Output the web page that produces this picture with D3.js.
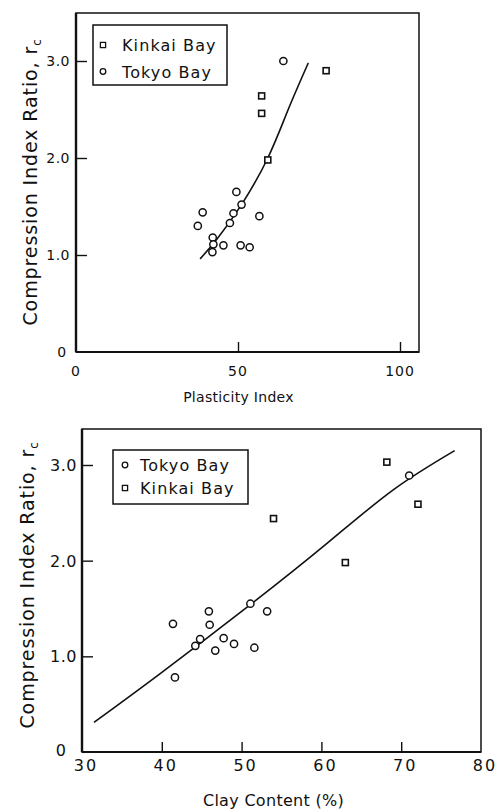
<!DOCTYPE html>
<html>
<head>
<meta charset="utf-8">
<script src="https://cdn.jsdelivr.net/npm/d3@7/dist/d3.min.js"></script>
<style>
  html, body { margin: 0; padding: 0; background: #fff; }
  svg { display: block; }
  text { font-family: "DejaVu Sans", sans-serif; fill: #111; }
</style>
</head>
<body>
<svg id="chart" width="503" height="812"></svg>
<script>
// ---- Upper panel: compression index ratio vs plasticity index ----
const piTokyoX = [37.6, 39.1, 42.2, 42.4, 42.1, 45.5, 47.5, 48.6, 49.5, 51.1, 50.8, 53.6, 56.6, 64.0];
const piTokyoY = [1.30, 1.44, 1.18, 1.11, 1.03, 1.10, 1.33, 1.43, 1.65, 1.52, 1.10, 1.08, 1.40, 3.00];
const piKinkaiX = [59.2, 57.3, 57.3, 77.2];
const piKinkaiY = [1.98, 2.64, 2.46, 2.90];
const piCurveX = [38.3, 43.4, 51.1, 59.2, 65.5, 71.7];
const piCurveY = [0.96, 1.16, 1.52, 2.00, 2.50, 2.98];
const piTicks = [0, 50, 100];
const piYTicks = [0, 1, 2, 3];
const piYTickLabels = ["0", "1.0", "2.0", "3.0"];

// ---- Lower panel: compression index ratio vs clay content ----
const ccTokyoX = [41.4, 41.65, 44.2, 44.8, 45.9, 46.0, 46.7, 47.75, 49.05, 51.1, 51.6, 53.2, 71.0];
const ccTokyoY = [1.34, 0.78, 1.11, 1.18, 1.47, 1.33, 1.06, 1.19, 1.13, 1.55, 1.09, 1.47, 2.89];
const ccKinkaiX = [54.0, 63.0, 68.2, 72.1];
const ccKinkaiY = [2.44, 1.98, 3.03, 2.59];
const ccLineX = [31.5, 39.8, 51.1, 60.7, 69.0, 76.7];
const ccLineY = [0.31, 0.82, 1.54, 2.18, 2.74, 3.15];
const ccTicks = [30, 40, 50, 60, 70, 80];
const ccYTicks = [0, 1, 2, 3];
const ccYTickLabels = ["0", "1.0", "2.0", "3.0"];

const svg = d3.select("#chart");

function zip(xs, ys) { return xs.map((x, i) => [x, ys[i]]); }

function panel(cfg) {
  const g = svg.append("g");
  const x = d3.scaleLinear().domain(cfg.xDomain).range([cfg.left, cfg.right]);
  const y = d3.scaleLinear().domain(cfg.yDomain).range([cfg.bottom, cfg.top]);

  // frame
  g.append("rect")
    .attr("x", cfg.left).attr("y", cfg.top)
    .attr("width", cfg.right - cfg.left).attr("height", cfg.bottom - cfg.top)
    .attr("fill", "none").attr("stroke", "#111").attr("stroke-width", 1.5);
  g.append("line").attr("x1", cfg.left).attr("x2", cfg.left)
    .attr("y1", cfg.top).attr("y2", cfg.bottom)
    .attr("stroke", "#111").attr("stroke-width", 2.4);
  g.append("line").attr("x1", cfg.left).attr("x2", cfg.right)
    .attr("y1", cfg.bottom).attr("y2", cfg.bottom)
    .attr("stroke", "#111").attr("stroke-width", 2.2);

  // inward ticks
  const xAxis = d3.axisBottom(x).tickValues(cfg.xTicks.filter(v => v > cfg.xDomain[0] && v < cfg.xDomain[1]))
    .tickSize(-10).tickFormat("");
  const xa = g.append("g").attr("transform", `translate(0,${cfg.bottom})`).call(xAxis);
  xa.select(".domain").remove();
  xa.selectAll("line").attr("stroke", "#111").attr("stroke-width", 1.4);

  const yAxis = d3.axisLeft(y).tickValues(cfg.yTicks.filter(v => v > 0))
    .tickSize(-11).tickFormat("");
  const ya = g.append("g").attr("transform", `translate(${cfg.left},0)`).call(yAxis);
  ya.select(".domain").remove();
  ya.selectAll("line").attr("stroke", "#111").attr("stroke-width", 1.4);

  // tick labels
  g.selectAll(".xl").data(cfg.xTicks).enter().append("text")
    .attr("x", d => x(d) + cfg.xLabelShift).attr("y", cfg.xLabelY)
    .attr("text-anchor", "middle")
    .style("font-size", cfg.tickFont + "px").style("letter-spacing", cfg.tickSpacing + "px")
    .text(d => d);
  g.selectAll(".yl").data(cfg.yTicks).enter().append("text")
    .attr("x", cfg.yLabelX).attr("y", d => y(d) + cfg.yLabelDy + (d === 0 ? cfg.zeroDy : 0))
    .attr("text-anchor", d => d === 0 ? "middle" : "end")
    .attr("dx", d => d === 0 ? cfg.zeroDx : 0)
    .style("font-size", cfg.tickFont + "px").style("letter-spacing", "0.5px")
    .text((d, i) => cfg.yTickLabels[i]);

  // axis titles
  g.append("text").attr("x", (cfg.left + cfg.right) / 2 + cfg.xTitleShift).attr("y", cfg.xTitleY)
    .attr("text-anchor", "middle").style("font-size", cfg.xTitleFont + "px")
    .style("letter-spacing", "0.3px")
    .text(cfg.xTitle);
  const yt = g.append("text")
    .attr("transform", `translate(${cfg.yTitleX},${cfg.yTitleCY}) rotate(-90)`)
    .attr("text-anchor", "middle").style("font-size", cfg.yTitleFont + "px")
    .style("letter-spacing", "0.9px");
  yt.append("tspan").text("Compression Index Ratio, r");
  yt.append("tspan").attr("dy", 4).style("font-size", (cfg.yTitleFont * 0.62) + "px").text("c");

  // fitted curve
  const line = d3.line().x(d => x(d[0])).y(d => y(d[1])).curve(d3.curveNatural);
  g.append("path").datum(zip(cfg.curveX, cfg.curveY))
    .attr("d", line).attr("fill", "none").attr("stroke", "#111").attr("stroke-width", 1.6);

  // markers
  g.selectAll(".c").data(zip(cfg.tokyoX, cfg.tokyoY)).enter().append("circle")
    .attr("cx", d => x(d[0])).attr("cy", d => y(d[1])).attr("r", 3.6)
    .attr("fill", "#fff").attr("stroke", "#111").attr("stroke-width", 1.5);
  g.selectAll(".s").data(zip(cfg.kinkaiX, cfg.kinkaiY)).enter().append("rect")
    .attr("x", d => x(d[0]) - 3).attr("y", d => y(d[1]) - 3)
    .attr("width", 6).attr("height", 6)
    .attr("fill", "#fff").attr("stroke", "#111").attr("stroke-width", 1.6);

  // legend
  const L = cfg.legend;
  g.append("rect").attr("x", L.x).attr("y", L.y).attr("width", L.w).attr("height", L.h)
    .attr("fill", "#fff").attr("stroke", "#111").attr("stroke-width", 1.5);
  L.items.forEach((it, i) => {
    const cy = L.y + L.row0 + i * L.rowGap;
    if (it.shape === "circle") {
      g.append("circle").attr("cx", L.x + L.mx).attr("cy", cy).attr("r", 2.8)
        .attr("fill", "#fff").attr("stroke", "#111").attr("stroke-width", 1.3);
    } else {
      g.append("rect").attr("x", L.x + L.mx - 2.6).attr("y", cy - 2.6).attr("width", 5.2).attr("height", 5.2)
        .attr("fill", "#fff").attr("stroke", "#111").attr("stroke-width", 1.3);
    }
    g.append("text").attr("x", L.x + L.tx).attr("y", cy + 6)
      .style("font-size", L.font + "px").style("letter-spacing", "1.1px").text(it.label);
  });
}

panel({
  left: 76, right: 419, top: 13, bottom: 352,
  xDomain: [0, 343 / 3.24], yDomain: [0, 339 / 97],
  xTicks: piTicks, yTicks: piYTicks, yTickLabels: piYTickLabels,
  tokyoX: piTokyoX, tokyoY: piTokyoY, kinkaiX: piKinkaiX, kinkaiY: piKinkaiY,
  curveX: piCurveX, curveY: piCurveY,
  tickFont: 14, tickSpacing: 1, xLabelY: 376, xLabelShift: 0,
  yLabelX: 70, yLabelDy: 5, zeroDx: -8, zeroDy: 0,
  xTitle: "Plasticity Index", xTitleY: 402, xTitleShift: -9, xTitleFont: 14,
  yTitleX: 37, yTitleCY: 182, yTitleFont: 19,
  legend: { x: 93, y: 25, w: 134, h: 60, row0: 20, rowGap: 26.5, mx: 10, tx: 29, font: 16,
    items: [{ shape: "rect", label: "Kinkai Bay" }, { shape: "circle", label: "Tokyo Bay" }] }
});

panel({
  left: 82, right: 481, top: 429, bottom: 752,
  xDomain: [30, 80], yDomain: [0, 323 / 95.67],
  xTicks: ccTicks, yTicks: ccYTicks, yTickLabels: ccYTickLabels,
  tokyoX: ccTokyoX, tokyoY: ccTokyoY, kinkaiX: ccKinkaiX, kinkaiY: ccKinkaiY,
  curveX: ccLineX, curveY: ccLineY,
  tickFont: 16, tickSpacing: 2, xLabelY: 771, xLabelShift: 4,
  yLabelX: 77, yLabelDy: 6, zeroDx: -16, zeroDy: -2,
  xTitle: "Clay Content (%)", xTitleY: 806, xTitleShift: -8, xTitleFont: 16,
  yTitleX: 34, yTitleCY: 585, yTitleFont: 19,
  legend: { x: 113, y: 450, w: 135, h: 54, row0: 15, rowGap: 23, mx: 12, tx: 27, font: 16,
    items: [{ shape: "circle", label: "Tokyo Bay" }, { shape: "rect", label: "Kinkai Bay" }] }
});
</script>
</body>
</html>
